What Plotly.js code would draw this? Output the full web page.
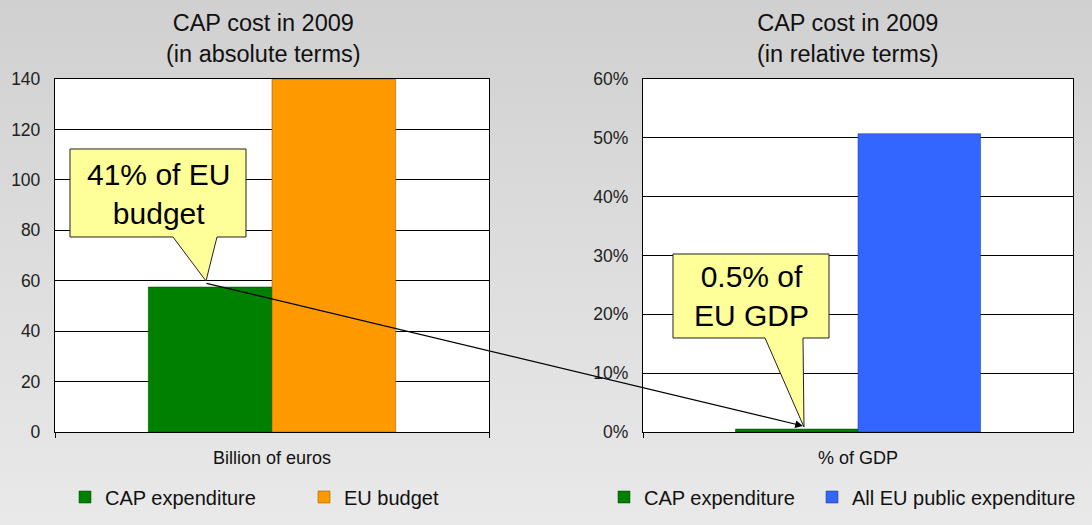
<!DOCTYPE html>
<html>
<head>
<meta charset="utf-8">
<script src="https://cdn.plot.ly/plotly-3.0.1.min.js"></script>
<style>
  html, body { margin: 0; padding: 0; }
  #chart { width: 1092px; height: 525px; background: linear-gradient(to bottom, #d0d0d0 0%, #dcdcdc 45%, #e9e9e9 100%); }
</style>
</head>
<body>
<div id="chart"></div>
<script>
// ---- data ----
const absCategory = ['Billion of euros'];
const relCategory = ['% of GDP'];
const absCapExpenditure = [57.5];   // billion euros
const absEuBudget = [140];          // billion euros
const relCapExpenditure = [0.5];    // % of GDP
const relAllPublicExpenditure = [50.7]; // % of GDP
const seriesNames = ['CAP expenditure', 'EU budget', 'All EU public expenditure'];
const titles = ['CAP cost in 2009<br>(in absolute terms)', 'CAP cost in 2009<br>(in relative terms)'];
const calloutTexts = ['41% of EU<br>budget', '0.5% of<br>EU GDP'];

// ---- geometry helpers (pixel -> paper) ----
const W = 1092, H = 525, T = 79, B = 93;
const PH = H - T - B;
const px = v => v / W;
const py = v => (H - B - v) / PH;

function calloutPath(l, t, r, b, bl, br, tipx, tipy) {
  const pts = [[l,t],[r,t],[r,b],[br,b],[tipx,tipy],[bl,b],[l,b]];
  return 'M' + pts.map(p => px(p[0]).toFixed(5) + ',' + py(p[1]).toFixed(5)).join(' L') + ' Z';
}

const green = '#008000', orange = '#ff9900', blue = '#3366ff';
const font = 'Liberation Sans, Arial, sans-serif';

const traces = [
  { type: 'bar', name: seriesNames[0], x: absCategory, y: absCapExpenditure, xaxis: 'x', yaxis: 'y',
    marker: { color: green, line: { width: 0.5, color: '#004000' } }, legend: 'legend', showlegend: true, hoverinfo: 'y+name' },
  { type: 'bar', name: seriesNames[1], x: absCategory, y: absEuBudget, xaxis: 'x', yaxis: 'y',
    marker: { color: orange, line: { width: 0.5, color: '#805000' } }, legend: 'legend2', showlegend: true, hoverinfo: 'y+name' },
  { type: 'bar', name: seriesNames[0], x: relCategory, y: relCapExpenditure, xaxis: 'x2', yaxis: 'y2',
    marker: { color: green, line: { width: 0.5, color: '#004000' } }, legend: 'legend3', showlegend: true, hoverinfo: 'y+name' },
  { type: 'bar', name: seriesNames[2], x: relCategory, y: relAllPublicExpenditure, xaxis: 'x2', yaxis: 'y2',
    marker: { color: blue, line: { width: 0.5, color: '#1a3380' } }, legend: 'legend4', showlegend: true, hoverinfo: 'y+name' }
];

const xCommon = {
  type: 'category', showgrid: false, showline: true, linecolor: '#000', linewidth: 1.3, mirror: true,
  ticks: 'outside', tickson: 'boundaries', ticklen: 5, tickcolor: '#000', tickwidth: 1,
  tickfont: { family: font, size: 18, color: '#111' }, ticklabelstandoff: 9, fixedrange: true
};
const yCommon = {
  showgrid: true, gridcolor: '#000', gridwidth: 1, showline: true, linecolor: '#000', linewidth: 1.3, mirror: true,
  ticks: '', zeroline: false, tickfont: { family: font, size: 17.5, color: '#222' }, ticklabelstandoff: 10, fixedrange: true
};

function legendAt(squareLeft) {
  return {
    orientation: 'h', x: px(squareLeft - 15), xanchor: 'left', y: py(497), yanchor: 'middle',
    font: { family: font, size: 20, color: '#111' }, bgcolor: 'rgba(0,0,0,0)',
    itemclick: false, itemdoubleclick: false
  };
}

const layout = {
  width: W, height: H,
  showlegend: true,
  paper_bgcolor: 'rgba(0,0,0,0)', plot_bgcolor: '#ffffff',
  margin: { l: 0, r: 0, t: T, b: B },
  barmode: 'group', bargap: 0.43, bargroupgap: 0,
  font: { family: font, color: '#111' },
  xaxis: Object.assign({}, xCommon, { domain: [px(55), px(489)], anchor: 'y' }),
  yaxis: Object.assign({}, yCommon, { domain: [0, 1], range: [0, 140], dtick: 20, anchor: 'x' }),
  xaxis2: Object.assign({}, xCommon, { domain: [px(643), px(1073)], anchor: 'y2' }),
  yaxis2: Object.assign({}, yCommon, { domain: [0, 1], range: [0, 60], dtick: 10, ticksuffix: '%', anchor: 'x2' }),
  legend: legendAt(80),
  legend2: legendAt(319),
  legend3: legendAt(619),
  legend4: legendAt(827),
  shapes: [
    { type: 'path', xref: 'paper', yref: 'paper', layer: 'above',
      path: calloutPath(70, 149, 246, 237, 173, 217, 206, 281),
      fillcolor: '#ffff99', line: { color: '#222', width: 1 } },
    { type: 'path', xref: 'paper', yref: 'paper', layer: 'above',
      path: calloutPath(673, 254, 829, 338, 765, 803, 804, 427),
      fillcolor: '#ffff99', line: { color: '#222', width: 1 } }
  ],
  annotations: [
    { text: titles[0], xref: 'paper', yref: 'paper', x: px(263), y: py(38), showarrow: false,
      font: { family: font, size: 23.5, color: '#111' }, xanchor: 'center', yanchor: 'middle' },
    { text: titles[1], xref: 'paper', yref: 'paper', x: px(848), y: py(38), showarrow: false,
      font: { family: font, size: 23.5, color: '#111' }, xanchor: 'center', yanchor: 'middle' },
    { text: calloutTexts[0], xref: 'paper', yref: 'paper', x: px(158), y: py(194), showarrow: false,
      font: { family: font, size: 30, color: '#000' }, xanchor: 'center', yanchor: 'middle' },
    { text: calloutTexts[1], xref: 'paper', yref: 'paper', x: px(751), y: py(296), showarrow: false,
      font: { family: font, size: 30, color: '#000' }, xanchor: 'center', yanchor: 'middle' },
    { text: '', xref: 'paper', yref: 'paper', x: px(803), y: py(426), showarrow: true,
      axref: 'pixel', ayref: 'pixel', ax: 205 - 803, ay: 283 - 426,
      arrowhead: 2, arrowsize: 1.3, arrowwidth: 1.2, arrowcolor: '#000', standoff: 0, startstandoff: 0 }
  ]
};

Plotly.newPlot('chart', traces, layout, { displayModeBar: false });
</script>
</body>
</html>
